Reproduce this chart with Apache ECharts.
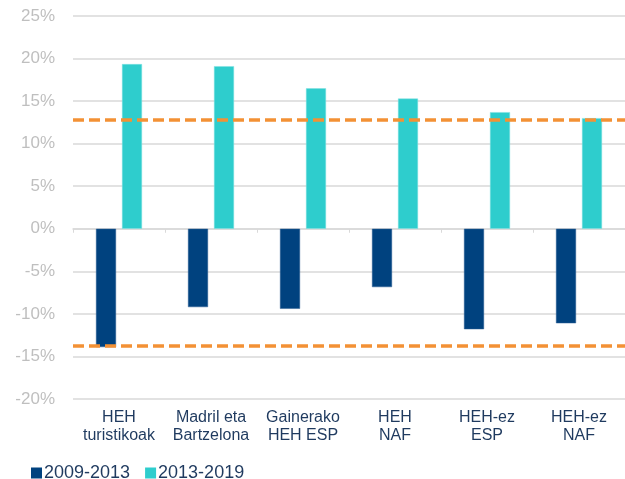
<!DOCTYPE html>
<html style="height: 100%">
<head>
<meta charset="utf-8">
</head>
<body style="width: 100%; height: 100%; margin: 0;">
<div id="container" style="width: 625px; height: 479px"></div>
<script type="text/javascript" src="https://cdn.jsdelivr.net/npm/echarts@6/dist/echarts.min.js"></script>
<script type="text/javascript">
	var categories = ['HEH\nturistikoak', 'Madril eta\nBartzelona', 'Gainerako\nHEH ESP', 'HEH\nNAF', 'HEH-ez\nESP', 'HEH-ez\nNAF'];
	var seriesNames = ['2009-2013', '2013-2019'];
	var values0913 = [-13.9, -9.2, -9.4, -6.85, -11.8, -11.1];
	var values1319 = [19.35, 19.1, 16.5, 15.3, 13.7, 13.0];
	var refLines = [12.8, -13.7];

	var myChart = echarts.init(document.getElementById('container'));
	var option = {
		animation: false,
		textStyle: { fontFamily: 'Liberation Sans, Arial, sans-serif' },
		grid: { left: 73, right: 0, top: 16, bottom: 80 },
		legend: {
			data: seriesNames,
			left: 26,
			top: 459,
			icon: 'rect',
			itemWidth: 11,
			itemHeight: 11,
			itemGap: 15,
			itemStyle: { borderWidth: 0 },
			textStyle: { fontSize: 18, color: '#1F3A5F', padding: [0, 0, 0, -3] }
		},
		xAxis: [
			{
				type: 'category',
				data: categories,
				axisLine: { show: false, onZero: false },
				axisTick: { show: false },
				axisLabel: {
					margin: 10,
					fontSize: 16,
					lineHeight: 18,
					color: '#1F3A5F',
					interval: 0
				}
			},
			{
				type: 'category',
				data: categories,
				position: 'bottom',
				axisLine: { show: true, onZero: true, onZeroAxisIndex: 0, lineStyle: { color: '#D9D9D9', width: 1.5 } },
				axisTick: { show: true, length: 4, lineStyle: { color: '#D9D9D9' } },
				axisLabel: { show: false }
			}
		],
		yAxis: {
			type: 'value',
			min: -20,
			max: 25,
			interval: 5,
			axisLine: { show: false },
			axisTick: { show: false },
			axisLabel: {
				formatter: '{value}%',
				fontSize: 17,
				color: '#BFBFBF',
				margin: 18
			},
			splitLine: { lineStyle: { color: '#D9D9D9', width: 1.5 } }
		},
		series: [
			{
				name: seriesNames[0],
				type: 'bar',
				data: values0913,
				barWidth: 20,
				barGap: '30%',
				itemStyle: { color: '#00427F', borderColor: '#2A5F95', borderWidth: 0.5 }
			},
			{
				name: seriesNames[1],
				type: 'bar',
				data: values1319,
				barWidth: 20,
				itemStyle: { color: '#2ECDCD', borderColor: '#7FE0E0', borderWidth: 0.5 },
				markLine: {
					silent: true,
					symbol: 'none',
					label: { show: false },
					lineStyle: { color: '#F39135', width: 3.5, type: [11, 5] },
					data: refLines.map(function (v) { return { yAxis: v }; })
				}
			}
		]
	};
	myChart.setOption(option);
</script>
</body>
</html>
